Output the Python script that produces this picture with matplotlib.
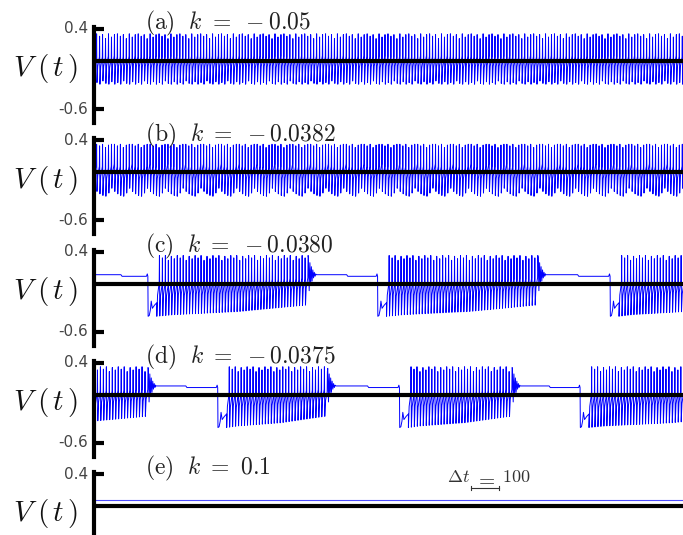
import numpy as np
import matplotlib
matplotlib.use("Agg")
import matplotlib.pyplot as plt
from matplotlib.transforms import blended_transform_factory

plt.rcParams['mathtext.fontset'] = 'cm'

# ---------------- data ----------------
LABELS = ["a", "b", "c", "d", "e"]
K_VALUES = ["-0.05", "-0.0382", "-0.0380", "-0.0375", "0.1"]
YTICKS = [0.4, -0.6]
YTICK_LABELS = ["0.4", "-0.6"]
T_END = 2100
SPIKE_PERIOD = 10.6

# spike template (phase within period, level between trough=0 and peak=1)
SPIKE_PHASE = [0.0, 0.25, 0.60, 0.80, 0.88]
SPIKE_LEVEL = [0.0, 0.35, 0.48, 0.55, 1.0]

# tonic spiking panels
PEAK_A = [0.34, 0.31, 0.33, 0.28, 0.34, 0.30, 0.33]
TROUGH_A = [-0.29, -0.27, -0.29, -0.25, -0.28, -0.29, -0.26]
PEAK_B = [0.35, 0.33, 0.35, 0.31, 0.34, 0.35]
TROUGH_B = [-0.20, -0.24, -0.27, -0.29, -0.30, -0.26]

# bursting panels
BURST_START_C = [192, 1011, 1840]
BURST_END_C = [762, 1580, 2300]
BURST_START_D = [-400, 441, 1089, 1733]
BURST_END_D = [185, 833, 1484, 2300]
BURST_PEAK_CYCLE = [0.35, 0.32, 0.35, 0.29, 0.34, 0.31]
BURST_TROUGH_ENV = [-0.41, -0.39, -0.38, -0.37, -0.36, -0.35, -0.33, -0.31, -0.29, -0.27]
REST_LEVEL = [0.11, 0.09]
PRE_BLIP = 0.12
ONSET_DT = [0, 1, 5, 9, 12, 16, 24, 32]
ONSET_V = [0.09, -0.41, -0.40, -0.33, -0.22, -0.31, -0.27, -0.24]
TAIL_OFFSETS = [0.22, -0.20, 0.15, -0.13, 0.10, -0.08, 0.06, -0.04, 0.03, -0.02, 0.01]
TAIL_STEP = 2.6

FLAT_E = 0.08
SCALE_T0 = 1345
SCALE_LEN = 100


# ---------------- trace builders ----------------
def spike_points(t0, t1, peaks, troughs):
    ts, vs = [], []
    k = 0
    t = t0
    while t < t1:
        pk = peaks[k]
        tr = troughs[k]
        for ph, lv in zip(SPIKE_PHASE, SPIKE_LEVEL):
            ts.append(t + ph * SPIKE_PERIOD)
            vs.append(tr + lv * (pk - tr))
        k += 1
        t = t0 + k * SPIKE_PERIOD
    return ts, vs


def tonic(peak_cycle, trough_cycle):
    n = int(np.ceil(T_END / SPIKE_PERIOD)) + 2
    peaks = [peak_cycle[i % len(peak_cycle)] for i in range(n)]
    troughs = [trough_cycle[i % len(trough_cycle)] for i in range(n)]
    return spike_points(0, T_END + SPIKE_PERIOD, peaks, troughs)


def bursting(starts, ends):
    T, V = [], []
    tail_len = len(TAIL_OFFSETS) * TAIL_STEP
    for i, (ts, te) in enumerate(zip(starts, ends)):
        if ts > 0:
            q0 = 0 if i == 0 else ends[i - 1] + tail_len
            mid = 0.5 * (q0 + ts)
            T += [q0, mid, mid + 4, ts - 5, ts - 2]
            V += [REST_LEVEL[0], REST_LEVEL[0], REST_LEVEL[1], REST_LEVEL[1], PRE_BLIP]
            T += [ts + d for d in ONSET_DT]
            V += list(ONSET_V)
        s0 = ts + ONSET_DT[-1]
        n = int(np.ceil((te - s0) / SPIKE_PERIOD))
        env_x = np.linspace(0, 1, len(BURST_TROUGH_ENV))
        frac = np.arange(n) / max(n - 1, 1)
        troughs = list(np.interp(frac, env_x, BURST_TROUGH_ENV))
        peaks = [BURST_PEAK_CYCLE[j % len(BURST_PEAK_CYCLE)] for j in range(n)]
        st, sv = spike_points(s0, te, peaks, troughs)
        T += st
        V += sv
        tend = s0 + n * SPIKE_PERIOD
        for j, off in enumerate(TAIL_OFFSETS):
            T.append(tend + j * TAIL_STEP)
            V.append(REST_LEVEL[0] + off)
    return T, V


traces = [
    tonic(PEAK_A, TROUGH_A),
    tonic(PEAK_B, TROUGH_B),
    bursting(BURST_START_C, BURST_END_C),
    bursting(BURST_START_D, BURST_END_D),
    ([0, T_END + 50], [FLAT_E, FLAT_E]),
]

# ---------------- figure ----------------
W, H = 683, 535
fig = plt.figure(figsize=(W / 100, H / 100), dpi=100)
left_px = 94
top0 = 27
step = 111.25
ax_h = 96
YLIM = (-0.775, 0.425)
ax_w_px = W - left_px

for i, (lab, kv, (tt, vv)) in enumerate(zip(LABELS, K_VALUES, traces)):
    top = top0 + step * i
    ax = fig.add_axes([left_px / W, 1 - (top + ax_h) / H, 1 - left_px / W, ax_h / H])
    ax.set_xlim(0, T_END)
    ax.set_ylim(*YLIM)
    ax.plot(tt, vv, color='#0000ff', lw=0.7 if i < 4 else 0.8,
            alpha=1.0 if i < 4 else 0.7, zorder=2)
    ax.axhline(0, color='black', lw=3.0, zorder=3)
    for s in ['top', 'right', 'bottom']:
        ax.spines[s].set_visible(False)
    ax.spines['left'].set_linewidth(3.0)
    ax.set_xticks([])
    nt = 2 if i < 4 else 1
    ax.set_yticks(YTICKS[:nt])
    ax.set_yticklabels([])
    ax.tick_params(axis='y', direction='in', length=7, width=3)
    ax.patch.set_visible(False)
    tr = blended_transform_factory(ax.transAxes, ax.transData)
    for yv, yl in zip(YTICKS[:nt], YTICK_LABELS[:nt]):
        ax.text(-6.0 / ax_w_px, yv, yl, fontsize=11, ha='right', va='center',
                color='#444444', transform=tr, clip_on=False)
    ax.text(-0.083, -0.1, r"$V\;(\,t\,)$", fontsize=21, ha='center', va='center',
            transform=tr, color='#111111', clip_on=False)
    ax.text(0.0866, 0.465, r"$(\mathrm{%s})\ \ k\ =\ %s$" % (lab, kv), fontsize=17,
            ha='left', va='center', transform=tr, color='#222222', clip_on=False)

    if i == 4:
        yb = 0.225
        ax.plot([SCALE_T0, SCALE_T0 + SCALE_LEN], [yb, yb], color='#333333', lw=0.8)
        ax.plot([SCALE_T0, SCALE_T0], [yb - 0.02, yb + 0.02], color='#333333', lw=0.8)
        ax.plot([SCALE_T0 + SCALE_LEN] * 2, [yb - 0.02, yb + 0.02], color='#333333', lw=0.8)
        ax.text(SCALE_T0 - 5, 0.36, r"$\Delta t$", fontsize=13, ha='right', va='center', color='#333333')
        ax.text(SCALE_T0 + SCALE_LEN / 2, 0.33, r"$=$", fontsize=15, ha='center', va='center', color='#333333')
        ax.text(SCALE_T0 + SCALE_LEN + 10, 0.36, r"$%d$" % SCALE_LEN, fontsize=13, ha='left', va='center', color='#333333')

fig.savefig("out.png", dpi=100)
